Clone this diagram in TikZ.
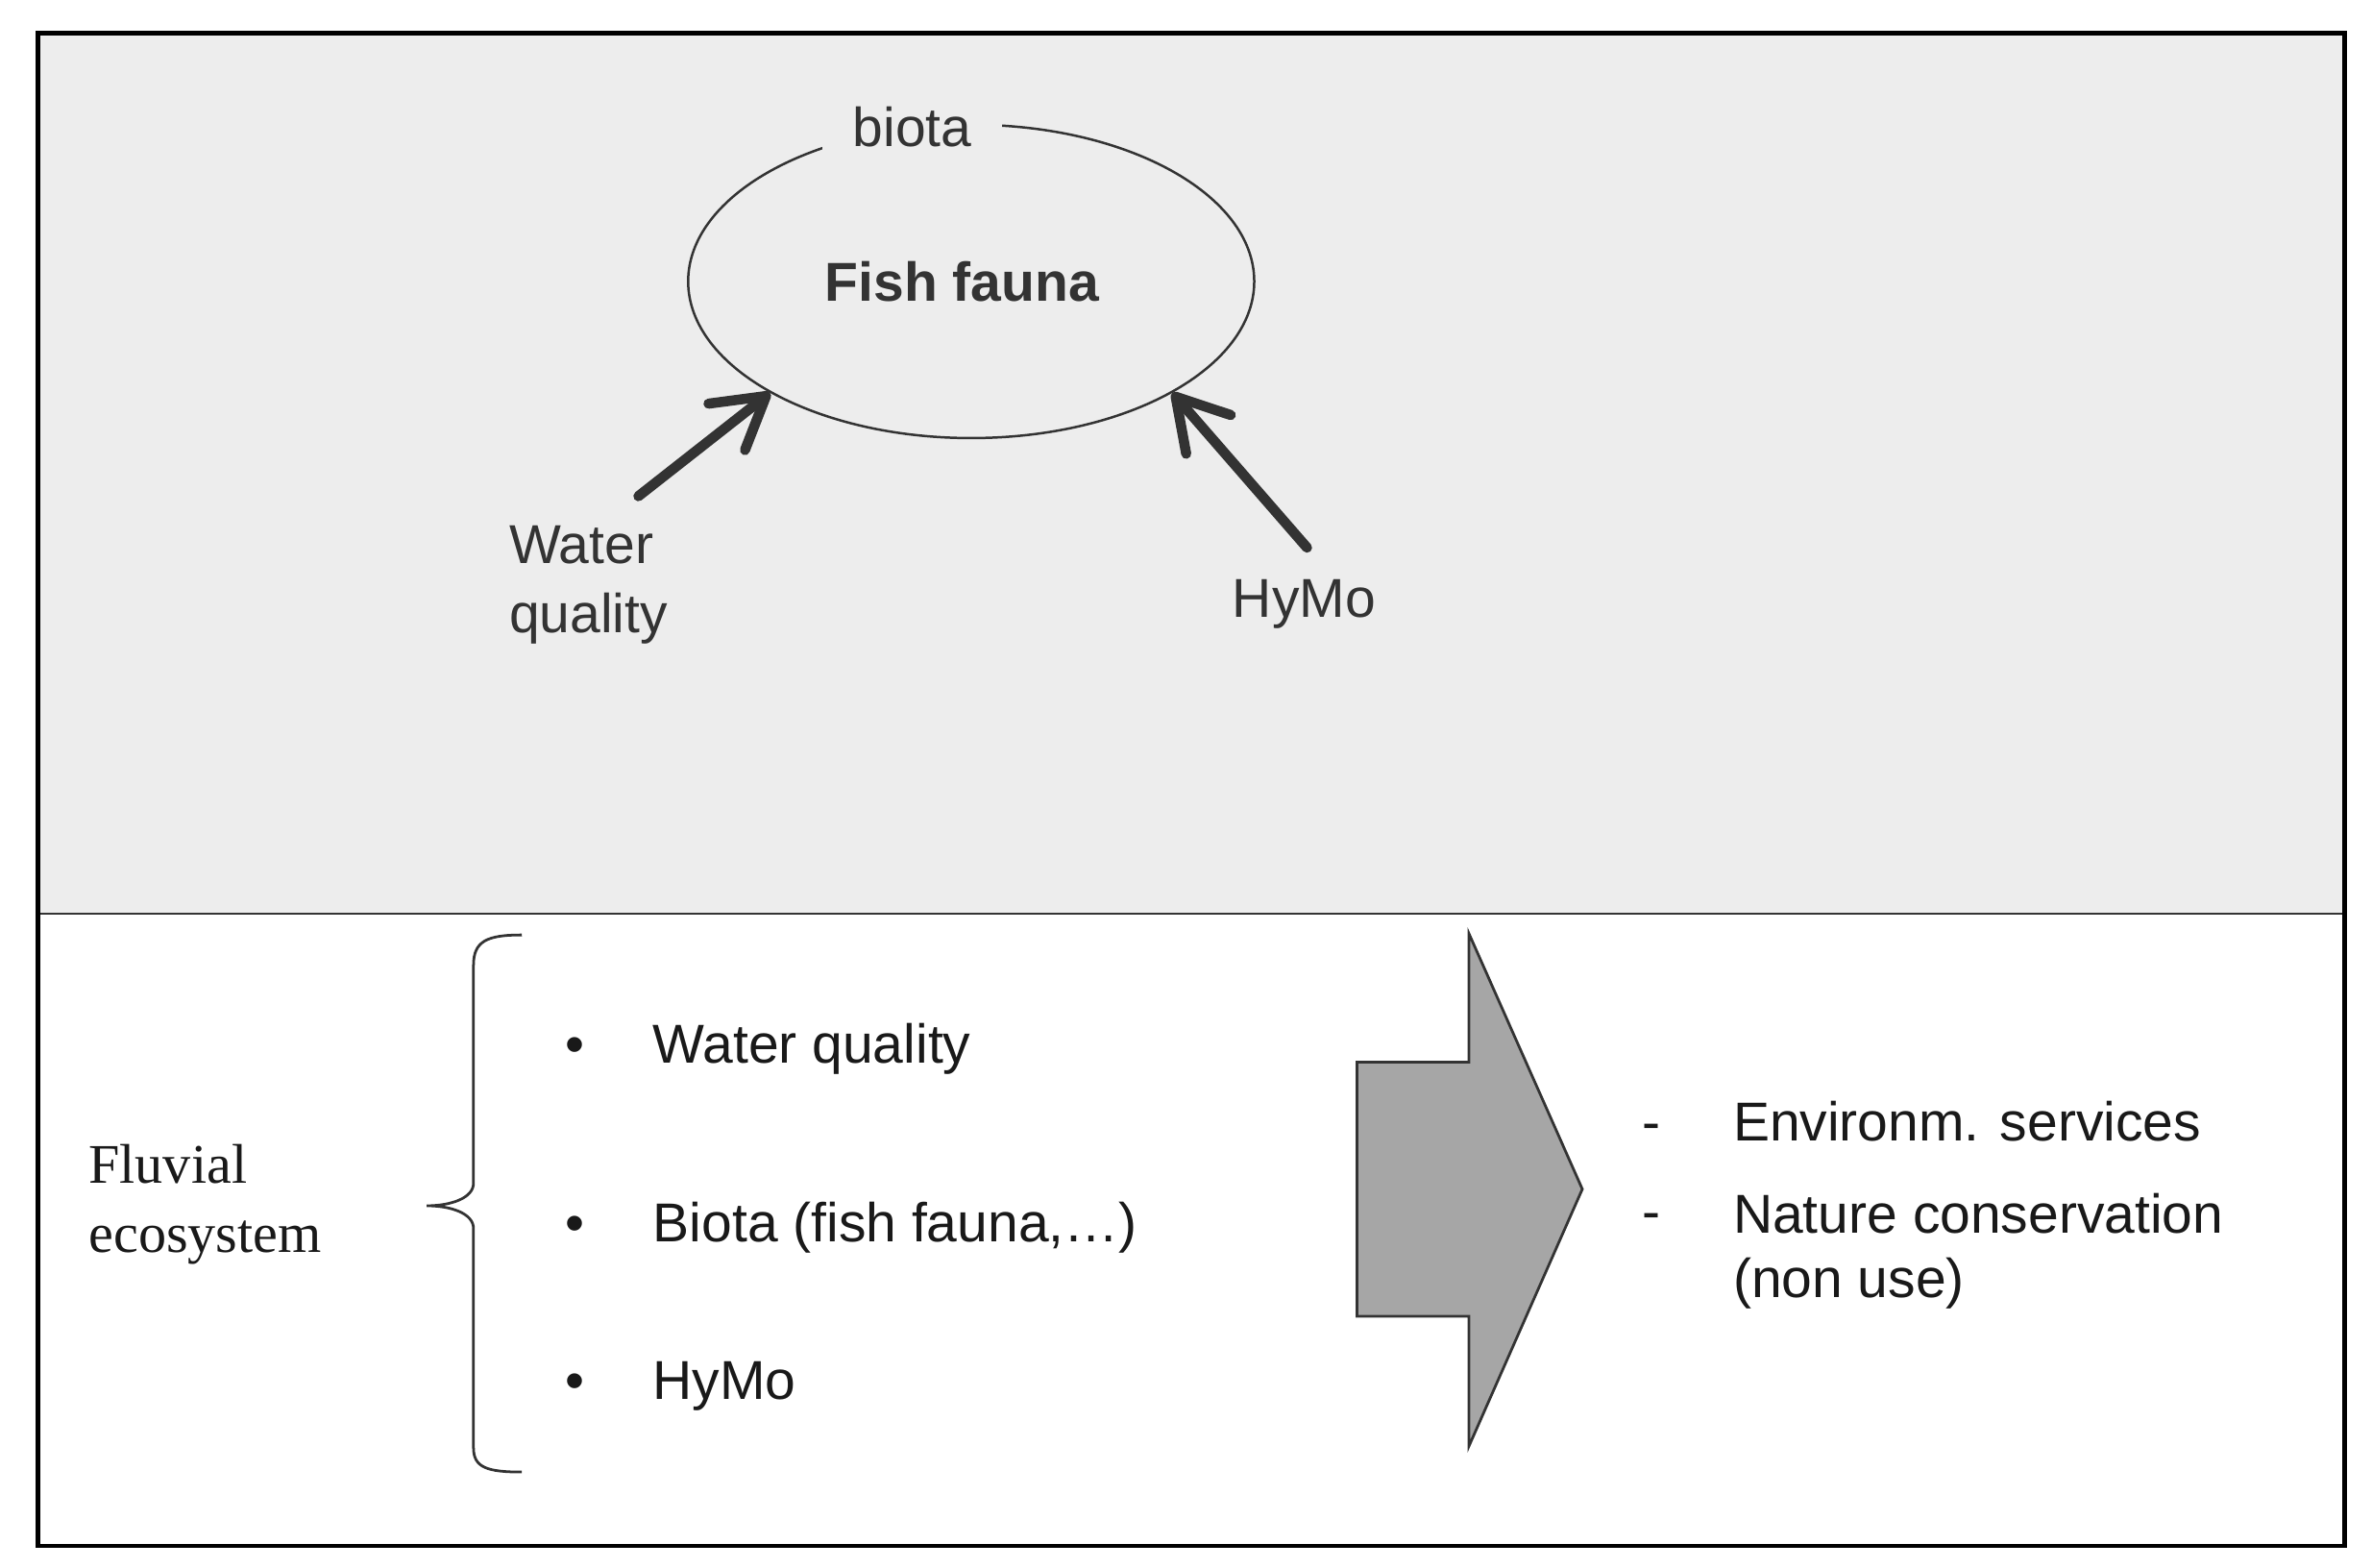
\documentclass[tikz,border=0pt]{standalone}
\usepackage{fontspec}
\setmainfont{Liberation Serif}
\setsansfont{Liberation Sans}
\usetikzlibrary{arrows.meta, shapes.geometric}

\definecolor{panelgray}{HTML}{EDEDED}
\definecolor{inkgray}{HTML}{333333}
\definecolor{arrowgray}{HTML}{A6A6A6}

\begin{document}
\begin{tikzpicture}[x=0.01cm, y=-0.01cm, font=\sffamily\fontsize{10.3}{13}\selectfont,
		toplbl/.style={text=inkgray, inner sep=0pt},
		item/.style={anchor=base west, inner sep=0pt, text=black!90},
		bulletmark/.style={anchor=base, inner sep=0pt, text=black!90},
		fatarrow/.style={inkgray, line width=1.9pt, line cap=round,
			-{Straight Barb[length=3.3mm, width=3.9mm, round]}}]
			
			% Constants
			\def\xl{25}
			\def\xr{1550}
			\def\yt{22}
			\def\ysplit{604}
			\def\yb{1022}
			
			\useasboundingbox (0,0) rectangle (1568,1036);
			
			% === TOP PANEL ===
			\fill[panelgray] (\xl,\yt) rectangle (\xr,\ysplit);
			\draw[inkgray, line width=0.5pt] (\xl,\ysplit) -- (\xr,\ysplit);
			
			\node[ellipse, draw=inkgray, line width=0.45pt, minimum width=3.74cm, minimum height=2.07cm,
				inner sep=0pt, text=inkgray, font=\sffamily\bfseries\fontsize{10.3}{13}\selectfont] (fish) at (642,186) {Fish fauna\kern0.12cm};
			\node[toplbl, fill=panelgray, inner xsep=0.2cm, inner ysep=3pt, anchor=base] (biota) at (603,97) {biota};
			
			\node[toplbl, align=left, anchor=north west] (wqtop) at (336,347) {Water\\quality};
			\node[toplbl, anchor=base] (hymotop) at (862,408) {HyMo};
			\coordinate (wqtail) at (422,328);
			\coordinate (hymotail) at (864,362);
			\draw[fatarrow] (wqtail) -- (fish.-151);
			\draw[fatarrow] (hymotail) -- (fish.-29);
			
			% === BOTTOM PANEL ===
			\node[anchor=north west, align=left, inner sep=0pt, text=black!90,
				font=\rmfamily\fontsize{10.5}{13}\selectfont] (fluvial) at (58,756) {Fluvial\\ecosystem};
			
			% brace
			\draw[inkgray, line width=0.5pt] (345,618) .. controls (322,618) and (313,622) .. (313,638)
				-- (313,782) .. controls (313,792) and (298,797) .. (282,797)
				.. controls (298,797) and (313,802) .. (313,812)
				-- (313,957) .. controls (313,970) and (322,973) .. (345,973);
			
			\foreach \nm/\ybase/\txt in {wq/703/Water quality, bio/821/{Biota (fish fauna,…)}, hymo/925/HyMo} {
				\node[bulletmark] (\nm dot) at (380,\ybase) {\textbullet};
				\node[item] (\nm) at (431,\ybase) {\txt};
			}
			
			% big arrow
			\draw[fill=arrowgray, draw=inkgray, line width=0.5pt]
				(897,702) -- (971,702) -- (971,617) -- (1046,786) -- (971,956) -- (971,870) -- (897,870) -- cycle;
			
			\node[bulletmark] (envdash) at (1092,754) {-};
			\node[item] (env) at (1145,754) {Environm. services};
			\node[bulletmark] (natdash) at (1092,813) {-};
			\node[anchor=north west, align=left, inner sep=0pt, text=black!90,
				font=\sffamily\fontsize{10.3}{12.2}\selectfont] (nat) at (1145,788) {Nature conservation\\(non use)};
			
			% frame
			\draw[line width=0.8pt] (\xl,\yt) rectangle (\xr,\yb);
			
		\end{tikzpicture}
\end{document}
